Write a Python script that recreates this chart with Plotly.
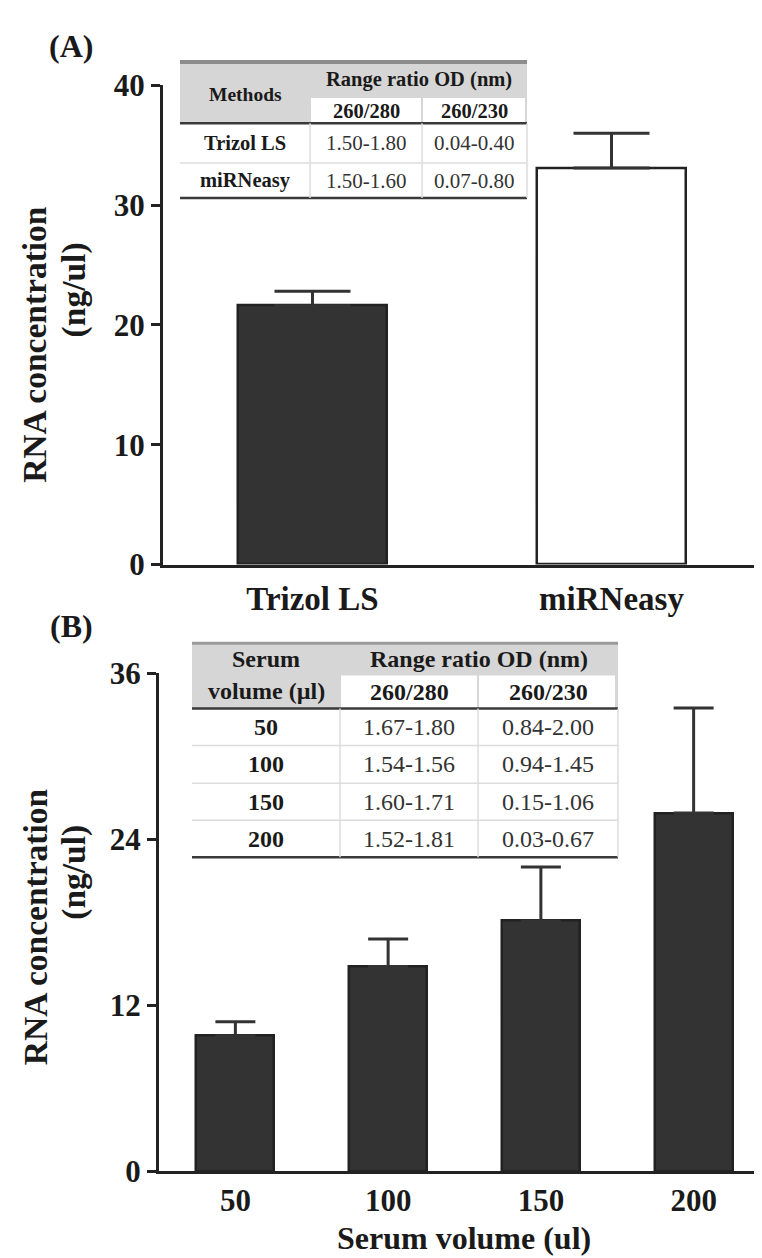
import plotly.graph_objects as go

W, H = 762, 1258

# ---------------- data ----------------
# Panel A
methods = ["Trizol LS", "miRNeasy"]
conc_a = [21.6, 33.1]
err_a = [1.2, 2.9]

# Panel B
serum_vol = ["50", "100", "150", "200"]
conc_b = [9.8, 14.8, 18.1, 25.9]
err_b = [1.0, 2.0, 3.9, 7.6]

# Inset table A
tabA_head = ["Methods", "Range ratio OD (nm)", "260/280", "260/230"]
tabA_methods = ["Trizol LS", "miRNeasy"]
tabA_280 = ["1.50-1.80", "1.50-1.60"]
tabA_230 = ["0.04-0.40", "0.07-0.80"]

# Inset table B
tabB_head = ["Serum", "volume (µl)", "Range ratio OD (nm)", "260/280", "260/230"]
tabB_vol = ["50", "100", "150", "200"]
tabB_280 = ["1.67-1.80", "1.54-1.56", "1.60-1.71", "1.52-1.81"]
tabB_230 = ["0.84-2.00", "0.94-1.45", "0.15-1.06", "0.03-0.67"]

# ---------------- helpers ----------------
def px(x):
    return x / W

def py(y):
    return 1 - y / H

SERIF = "Liberation Serif, Times New Roman, serif"
DARK = "#222222"
BARFILL = "#333333"

fig = go.Figure()

fig.add_trace(go.Bar(
    x=methods, y=conc_a, width=0.5,
    marker=dict(color=[BARFILL, "white"], line=dict(color=DARK, width=2.5)),
    error_y=dict(type="data", array=err_a, arrayminus=[0] * len(err_a), symmetric=False,
                 thickness=3, width=38, color="#333333"),
    xaxis="x", yaxis="y", showlegend=False,
))

fig.add_trace(go.Bar(
    x=serum_vol, y=conc_b, width=0.51,
    marker=dict(color=BARFILL, line=dict(color=DARK, width=2.5)),
    error_y=dict(type="data", array=err_b, arrayminus=[0] * len(err_b), symmetric=False,
                 thickness=3, width=20, color="#333333"),
    xaxis="x2", yaxis="y2", showlegend=False,
))

tickfont = dict(family=SERIF, size=31, color="#1a1a1a", weight="bold")
xtickfont = dict(family=SERIF, size=33, color="#1a1a1a", weight="bold")

axis_common = dict(showline=True, linecolor=DARK, linewidth=3, showgrid=False,
                   zeroline=False)

fig.update_layout(
    width=W, height=H,
    margin=dict(l=0, r=0, t=0, b=0),
    paper_bgcolor="white", plot_bgcolor="white",
    bargap=0,
    xaxis=dict(domain=[px(155), px(753)], anchor="y", type="category",
               ticks="", ticklabelstandoff=3, tickfont=xtickfont, **axis_common),
    yaxis=dict(domain=[py(555), py(62)], anchor="x", range=[0, 40], dtick=10,
               ticks="outside", ticklen=9, tickwidth=3, tickcolor=DARK,
               tickfont=tickfont, **axis_common),
    xaxis2=dict(domain=[px(151), px(762)], anchor="y2", type="category",
                ticks="", ticklabelstandoff=0, tickfont=tickfont, **axis_common),
    yaxis2=dict(domain=[py(1179), py(667)], anchor="x2", range=[0, 36], dtick=12,
                ticks="outside", ticklen=9, tickwidth=3, tickcolor=DARK,
                tickfont=tickfont, **axis_common),
)

shapes = []
annots = []

def hline(x0, x1, y, color, width):
    shapes.append(dict(type="line", xref="paper", yref="paper",
                       x0=px(x0), x1=px(x1), y0=py(y), y1=py(y),
                       line=dict(color=color, width=width)))

def vline(x, y0, y1, color, width):
    shapes.append(dict(type="line", xref="paper", yref="paper",
                       x0=px(x), x1=px(x), y0=py(y0), y1=py(y1),
                       line=dict(color=color, width=width)))

def rect(x0, y0, x1, y1, fill):
    shapes.append(dict(type="rect", xref="paper", yref="paper",
                       x0=px(x0), x1=px(x1), y0=py(y1), y1=py(y0),
                       fillcolor=fill, line=dict(width=0), layer="above"))

def text(x, y, s, size, bold=False, angle=0, color="#1a1a1a"):
    annots.append(dict(x=px(x), y=py(y), xref="paper", yref="paper", text=s,
                       showarrow=False, textangle=angle, xanchor="center", yanchor="middle",
                       font=dict(family=SERIF, size=size, color=color,
                                 weight="bold" if bold else "normal")))

GRAY = "#d6d6d6"
LIGHT = "#dcdcdc"

# ---------- table A ----------
cA = [172, 302, 414, 519]
rA = [38, 74, 101, 142, 178]
rect(cA[0], rA[0], cA[3], rA[2], GRAY)
rect(cA[1] + 1, rA[1] + 1, cA[2] - 1, rA[2], "white")
rect(cA[2] + 1, rA[1] + 1, cA[3] - 2, rA[2], "white")
hline(cA[0], cA[3], rA[0], "#8c8c8c", 4)
hline(cA[0], cA[3], rA[2], "#3a3a3a", 2.5)
hline(cA[0], cA[3], rA[3], LIGHT, 1.5)
hline(cA[0], cA[3], rA[4], "#3a3a3a", 2.5)
for c in (cA[1], cA[2], cA[3]):
    vline(c, rA[2], rA[4], LIGHT, 1.5)
fsA = 20.5
text((cA[0] + cA[1]) / 2, (rA[0] + rA[2]) / 2 + 2, tabA_head[0], fsA - 1, bold=True)
text((cA[1] + cA[3]) / 2, (rA[0] + rA[1]) / 2, tabA_head[1], fsA, bold=True)
text((cA[1] + cA[2]) / 2, (rA[1] + rA[2]) / 2 + 1, tabA_head[2], fsA, bold=True)
text((cA[2] + cA[3]) / 2, (rA[1] + rA[2]) / 2 + 1, tabA_head[3], fsA, bold=True)
for i in range(len(tabA_methods)):
    yc = (rA[2 + i] + rA[3 + i]) / 2
    text((cA[0] + cA[1]) / 2, yc, tabA_methods[i], fsA, bold=True)
    text((cA[1] + cA[2]) / 2, yc, tabA_280[i], fsA + 0.5, color="#333333")
    text((cA[2] + cA[3]) / 2, yc, tabA_230[i], fsA + 0.5, color="#333333")

# ---------- table B ----------
cB = [184, 332, 470, 610]
rB = [636, 668, 703, 741, 780, 818, 856]
rect(cB[0], rB[0], cB[3], rB[2], GRAY)
rect(cB[1] + 1, rB[1] + 1, cB[2] - 1, rB[2], "white")
rect(cB[2] + 1, rB[1] + 1, cB[3] - 3, rB[2], "white")
hline(cB[0], cB[3], rB[0], "#9a9a9a", 3)
hline(cB[0], cB[3], rB[2], "#3a3a3a", 2.5)
for r in rB[3:6]:
    hline(cB[0], cB[3], r, LIGHT, 1.5)
hline(cB[0], cB[3], rB[6], "#3a3a3a", 2.5)
for c in (cB[1], cB[2], cB[3]):
    vline(c, rB[2], rB[6], LIGHT, 1.5)
fsB = 24
text((cB[0] + cB[1]) / 2, (rB[0] + rB[1]) / 2, tabB_head[0], fsB, bold=True)
text((cB[0] + cB[1]) / 2, (rB[1] + rB[2]) / 2, tabB_head[1], fsB, bold=True)
text((cB[1] + cB[3]) / 2, (rB[0] + rB[1]) / 2, tabB_head[2], fsB, bold=True)
text((cB[1] + cB[2]) / 2, (rB[1] + rB[2]) / 2 + 1, tabB_head[3], fsB, bold=True)
text((cB[2] + cB[3]) / 2, (rB[1] + rB[2]) / 2 + 1, tabB_head[4], fsB, bold=True)
for i in range(len(tabB_vol)):
    yc = (rB[2 + i] + rB[3 + i]) / 2
    text((cB[0] + cB[1]) / 2, yc, tabB_vol[i], fsB, bold=True)
    text((cB[1] + cB[2]) / 2, yc, tabB_280[i], fsB, color="#333333")
    text((cB[2] + cB[3]) / 2, yc, tabB_230[i], fsB, color="#333333")

# ---------- panel labels and titles ----------
text(63, 22, "(A)", 32, bold=True)
text(63, 618, "(B)", 32, bold=True)
text(27, 329, "RNA concentration", 33.5, bold=True, angle=-90)
text(66, 273, "(ng/ul)", 33.5, bold=True, angle=-90)
text(27, 928, "RNA concentration", 33.5, bold=True, angle=-90)
text(66, 872, "(ng/ul)", 33.5, bold=True, angle=-90)
text(456, 1248, "Serum volume (ul)", 32, bold=True)

fig.update_layout(shapes=shapes, annotations=annots)

fig.write_html("out.html")
